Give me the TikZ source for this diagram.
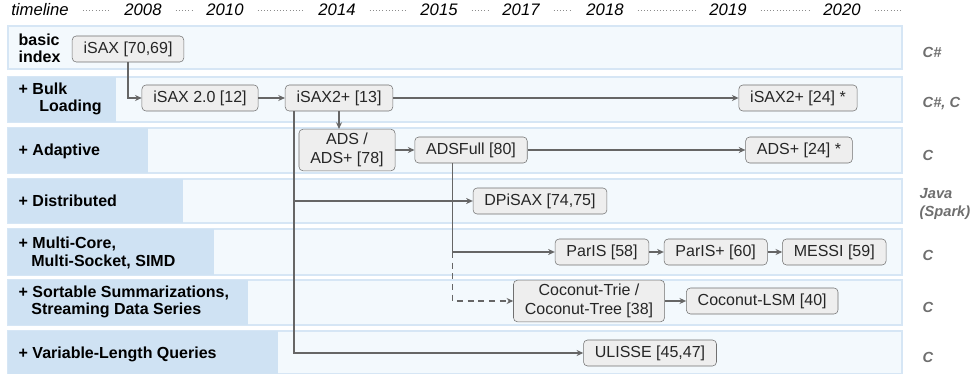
\documentclass[tikz,border=0pt]{standalone}
\usepackage{fontspec}
\setmainfont{Liberation Sans}
\usepackage{xcolor}
\usetikzlibrary{positioning, arrows.meta}

\definecolor{lanefill}{HTML}{F3F9FD}
\definecolor{laneline}{HTML}{D6E6F5}
\definecolor{headfill}{HTML}{CFE2F3}
\definecolor{nodefill}{HTML}{EEEEEE}
\definecolor{nodeline}{HTML}{707070}
\definecolor{linkgray}{HTML}{666666}
\definecolor{langgray}{HTML}{6E6E6E}

\begin{document}
\begin{tikzpicture}[
    x=0.75pt, y=-0.75pt,
    every node/.style={font=\fontsize{12}{14}\selectfont},
    idx/.style={rectangle, draw=nodeline, fill=nodefill, rounded corners=3pt, minimum height=19.5pt, inner xsep=8.5pt, inner ysep=3pt, align=center, text=black!85},
    lane/.style={draw=laneline, fill=lanefill, line width=0.8pt},
    lanehead/.style={fill=headfill},
    feature/.style={anchor=west, align=left, font=\fontsize{12}{13}\selectfont\bfseries},
    lang/.style={anchor=west, align=left, text=langgray, font=\fontsize{11}{13}\selectfont\bfseries\itshape},
    year/.style={font=\fontsize{12.5}{14}\selectfont\itshape},
    dotline/.style={draw=black!45, dotted, shorten <=7pt, shorten >=7pt},
    link/.style={draw=linkgray, line width=0.9pt, -{Stealth[length=5pt, width=4.5pt]}}
]
\useasboundingbox (0,0) rectangle (973,374);

% Lanes
\draw[lane] (8,26) rectangle (902,69);
\draw[lane] (8,77) rectangle (902,122);
\draw[lane] (8,128) rectangle (902,173);
\draw[lane] (8,179) rectangle (902,223);
\draw[lane] (8,229) rectangle (902,275);
\draw[lane] (8,280) rectangle (902,325);
\draw[lane] (8,331) rectangle (902,374);
\fill[lanehead] (8,77) rectangle (116,122);
\fill[lanehead] (8,128) rectangle (148,173);
\fill[lanehead] (8,179) rectangle (183,223);
\fill[lanehead] (8,229) rectangle (214,275);
\fill[lanehead] (8,280) rectangle (248,325);
\fill[lanehead] (8,331) rectangle (278,374);

% Timeline
\node[year] (tl) at (40,10) {timeline};
\node[year] (y2008) at (143,10) {2008};
\node[year] (y2010) at (225,10) {2010};
\node[year] (y2014) at (337,10) {2014};
\node[year] (y2015) at (439,10) {2015};
\node[year] (y2017) at (521,10) {2017};
\node[year] (y2018) at (605,10) {2018};
\node[year] (y2019) at (728,10) {2019};
\node[year] (y2020) at (842,10) {2020};
\coordinate (tlend) at (912,10);
\draw[dotline] (tl) -- (y2008);
\draw[dotline] (y2008) -- (y2010);
\draw[dotline] (y2010) -- (y2014);
\draw[dotline] (y2014) -- (y2015);
\draw[dotline] (y2015) -- (y2017);
\draw[dotline] (y2017) -- (y2018);
\draw[dotline] (y2018) -- (y2019);
\draw[dotline] (y2019) -- (y2020);
\draw[dotline] (y2020) -- (tlend);

% Features
\node[feature] (fbasic) at (14,48) {basic\\index};
\node[feature] (fbulk) at (14,99) {+ Bulk\\\hspace*{15.5pt}Loading};
\node[feature] (fadapt) at (14,151) {+ Adaptive};
\node[feature] (fdist) at (14,201) {+ Distributed};
\node[feature] (fmulti) at (14,253) {+ Multi-Core,\\\hspace*{9.5pt}Multi-Socket, SIMD};
\node[feature] (fsort) at (14,302) {+ Sortable Summarizations,\\\hspace*{9.5pt}Streaming Data Series};
\node[feature] (fvar) at (14,354) {+ Variable-Length Queries};

% Languages
\node[lang] (lbasic) at (918,52) {C\#};
\node[lang] (lbulk) at (918,104) {C\#, C};
\node[lang] (ladapt) at (918,155) {C};
\node[lang] (ldist) at (915,204) {Java\\(Spark)};
\node[lang] (lmulti) at (918,255) {C};
\node[lang] (lsort) at (918,307) {C};
\node[lang] (lvar) at (918,357) {C};

% Indexes
\node[idx] (isax) at (128,49) {iSAX [70,69]};
\node[idx] (isaxtwo) at (200,98) {iSAX 2.0 [12]};
\node[idx] (isaxplus) at (339,98) {iSAX2+ [13]};
\node[idx] (isaxlate) at (798,98) {iSAX2+ [24] *};
\node[idx] (ads) at (347,150) {ADS /\\ADS+ [78]};
\node[idx] (adsfull) at (471,150) {ADSFull [80]};
\node[idx] (adslate) at (799,150) {ADS+ [24] *};
\node[idx] (dpisax) at (540,201) {DPiSAX [74,75]};
\node[idx] (paris) at (602,252) {ParIS [58]};
\node[idx, right=11pt of paris] (parisplus) {ParIS+ [60]};
\node[idx, right=11pt of parisplus] (messi) {MESSI [59]};
\node[idx] (coconut) at (589,301) {Coconut-Trie /\\Coconut-Tree [38]};
\node[idx, right=16pt of coconut] (coconutlsm) {Coconut-LSM [40]};
\node[idx] (ulisse) at (650,353) {ULISSE [45,47]};

% Branch points
\coordinate[right=6.75pt of isaxplus.south west] (trunk);
\coordinate[right=28.5pt of adsfull.south west] (split);

% Edges
\draw[link] (isax.south) |- (isaxtwo.west);
\draw[link] (isaxtwo) -- (isaxplus);
\draw[link] (isaxplus) -- (isaxlate);
\draw[link] (isaxplus.south) -- (isaxplus.south |- ads.north);
\draw[link] (ads) -- (adsfull);
\draw[link] (adsfull) -- (adslate);
\draw[link] (trunk) |- (ulisse.west);
\draw[link] (trunk |- dpisax.west) -- (dpisax.west);
\draw[link] (split) |- (paris.west);
\draw[link, dash pattern=on 4.5pt off 3.5pt] (split |- paris.west) |- (coconut.west);
\draw[link] (paris) -- (parisplus);
\draw[link] (parisplus) -- (messi);
\draw[link] (coconut) -- (coconutlsm);

\end{tikzpicture}
\end{document}
